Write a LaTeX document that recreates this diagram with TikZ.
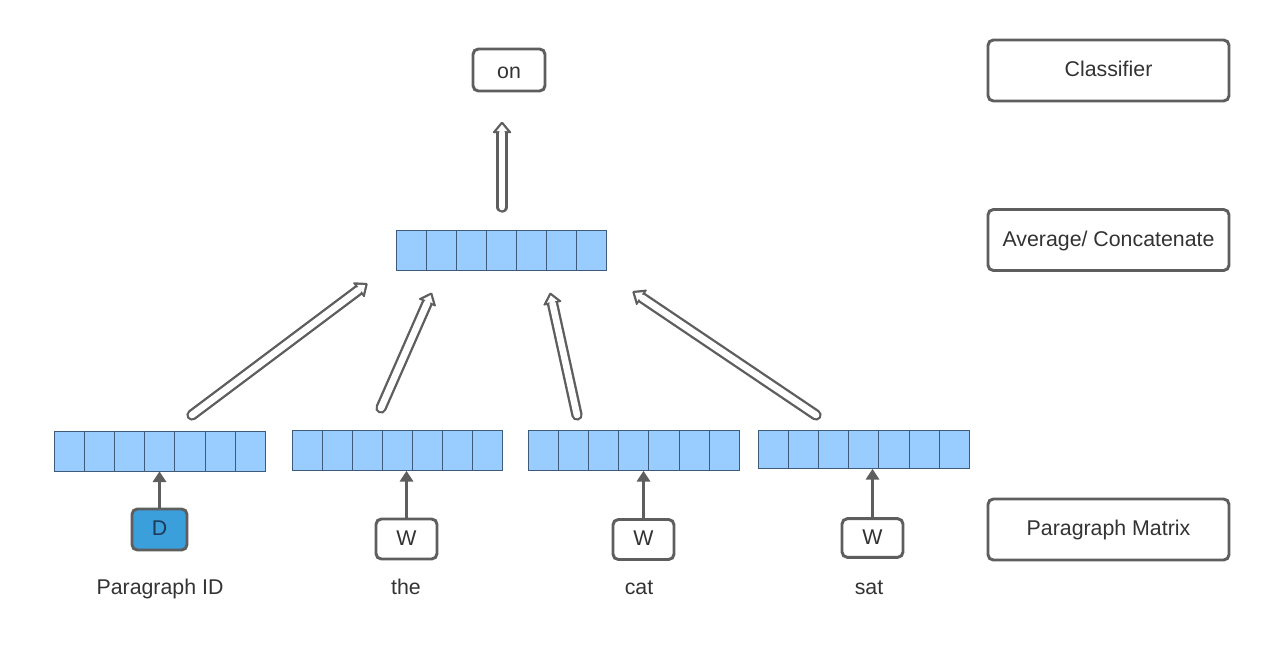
\documentclass[tikz,border=0pt]{standalone}
\usepackage{fontspec}
\setmainfont{Liberation Sans}
\usetikzlibrary{calc,arrows.meta}
\definecolor{edge}{HTML}{5E5E5E}
\definecolor{txt}{HTML}{333333}
\definecolor{cell}{HTML}{99CCFF}
\definecolor{cellline}{HTML}{3F5B7A}
\definecolor{dfill}{HTML}{3A9FDB}
\definecolor{dtxt}{HTML}{1E3A5A}
\newcommand\pipearrow[2]{%
  \coordinate (hb) at ($(#2)!9pt!(#1)$);
  \fill[edge, rounded corners=1pt] ($(hb)!7.5pt!90:(#2)$) -- (#2) -- ($(hb)!7.5pt!-90:(#2)$) -- cycle;
  \draw[edge, line width=8.5pt, line cap=round] (#1) -- (hb);
  \draw[white, line width=5pt, line cap=round] (#1) -- (hb);
  \fill[white] ($(hb)!1.5pt!(#2)!4pt!90:(#2)$) -- ($(#2)!2.6pt!(#1)$) -- ($(hb)!1.5pt!(#2)!4pt!-90:(#2)$) -- cycle;
}
\begin{document}
\begin{tikzpicture}[x=0.75pt,y=-0.75pt,
  font=\fontsize{16}{19}\selectfont,
  tx/.style={text height=12.5pt, text depth=3pt},
  box/.style={draw=edge, line width=2.2pt, rounded corners=4pt, fill=white, inner sep=0pt, text=txt, tx},
  vec/.style={draw=cellline, line width=0.6pt, fill=cell, minimum width=158pt, minimum height=30pt, inner sep=0pt},
  small/.style={draw=edge, line width=1.6pt, -{Triangle[length=8pt,width=10pt]}},
  lbl/.style={inner sep=0pt, text=txt, text height=11.5pt, text depth=3pt}]
\useasboundingbox (0,0) rectangle (1269,660);
\fill[white] (0,0) rectangle (1269,660);

% right column
\node[box, minimum width=180.75pt, minimum height=45.75pt] (cls) at (1108.5,70.5) {Classifier};
\node[box, minimum width=180.75pt, minimum height=45.75pt] (avg) at (1108.5,240) {Average/ Concatenate};
\node[box, minimum width=180.75pt, minimum height=45.75pt] (pm) at (1108.5,529.5) {Paragraph Matrix};

% output
\node[box, minimum width=54pt, minimum height=31.5pt, text height=15.8pt] (on) at (509,70) {on};

% vectors
\node[vec] (vt) at (501.5,250) {};
\node[vec] (v1) at (160,451) {};
\node[vec] (v2) at (397.5,450.5) {};
\node[vec] (v3) at (634,450.5) {};
\node[vec, minimum height=28.5pt] (v4) at (864,449.5) {};
\foreach \v in {vt,v1,v2,v3,v4}{
  \foreach \i in {1,...,6}{
    \draw[cellline, line width=0.6pt] ($(\v.north west)+(\i*30.143,0)$) -- ($(\v.south west)+(\i*30.143,0)$);
  }
}

% inputs
\node[box, fill=dfill, text=dtxt, minimum width=41.25pt, minimum height=30.75pt] (d) at (159.5,529.5) {D};
\node[box, minimum width=45.75pt, minimum height=30pt] (w1) at (406.5,539) {W};
\node[box, minimum width=45.75pt, minimum height=30pt] (w2) at (643.5,539.5) {W};
\node[box, minimum width=45.75pt, minimum height=29pt] (w3) at (872.5,538) {W};

\node[lbl] (l1) at (160,589) {Paragraph ID};
\node[lbl] (l2) at (406,589) {the};
\node[lbl] (l3) at (639,589) {cat};
\node[lbl] (l4) at (869,589) {sat};

\draw[small] (d.north) -- (d.north |- v1.south);
\draw[small] (w1.north) -- (w1.north |- v2.south);
\draw[small] (w2.north) -- (w2.north |- v3.south);
\draw[small] (w3.north) -- (w3.north |- v4.south);

% pipe arrows
\coordinate (p0s) at (502,207);
\coordinate (p0e) at (502,121);
\coordinate (p1s) at (192,415);
\coordinate (p1e) at (368,283);
\coordinate (p2s) at (381,408);
\coordinate (p2e) at (432,292);
\coordinate (p3s) at (577,415);
\coordinate (p3e) at (550,292);
\coordinate (p4s) at (816,415);
\coordinate (p4e) at (632,291);
\pipearrow{p0s}{p0e}
\pipearrow{p1s}{p1e}
\pipearrow{p2s}{p2e}
\pipearrow{p3s}{p3e}
\pipearrow{p4s}{p4e}
\end{tikzpicture}
\end{document}
